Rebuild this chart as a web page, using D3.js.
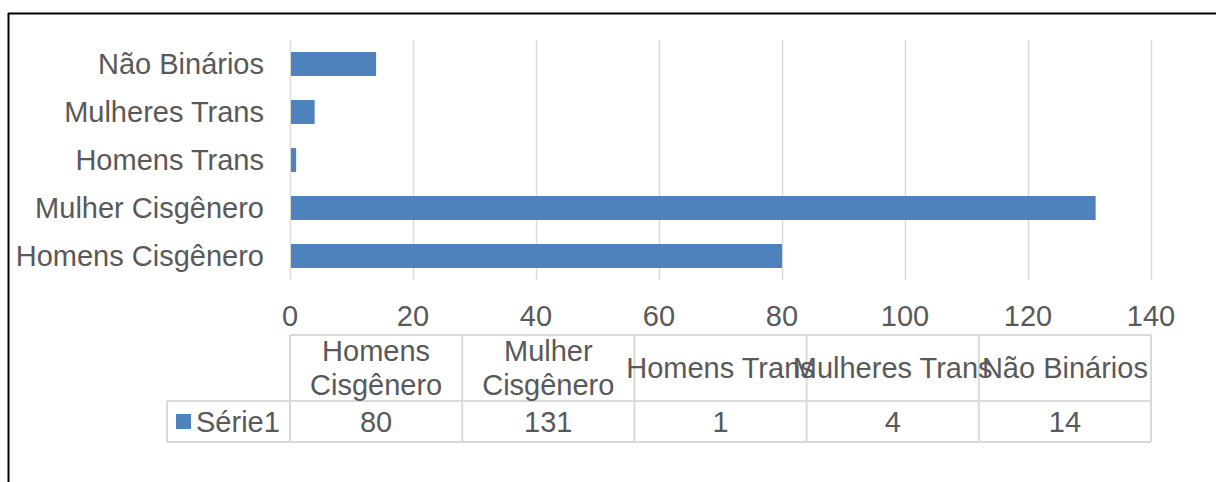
<!DOCTYPE html>
<html>
<head>
<meta charset="utf-8">
<script src="https://cdn.jsdelivr.net/npm/d3@7"></script>
<style>
  body { margin: 0; background: #fff; }
  text { font-family: "Liberation Sans", Arial, sans-serif; fill: #595959; }
</style>
</head>
<body>
<div id="chart"></div>
<script>
// data
let categories = ["Homens Cisgênero", "Mulher Cisgênero", "Homens Trans", "Mulheres Trans", "Não Binários"]
let headerLines = [["Homens", "Cisgênero"], ["Mulher", "Cisgênero"], ["Homens Trans"], ["Mulheres Trans"], ["Não Binários"]]
let values = [80, 131, 1, 4, 14]
let seriesName = "Série1"
let xTicks = [0, 20, 40, 60, 80, 100, 120, 140]

let W = 1216, H = 482
let plot = {left: 290, right: 1151, top: 40, bottom: 280}
let barColor = "#4f81bd"
let gridColor = "#d9d9d9"
let fontSize = 29

let svg = d3.select("#chart").append("svg")
    .attr("width", W).attr("height", H)

// outer frame (cropped: only top and left edges visible)
svg.append("line").attr("x1", 8).attr("x2", W).attr("y1", 13.5).attr("y2", 13.5)
    .attr("stroke", "#000").attr("stroke-width", 2)
svg.append("line").attr("x1", 8.5).attr("x2", 8.5).attr("y1", 13).attr("y2", H)
    .attr("stroke", "#000").attr("stroke-width", 2)

let x = d3.scaleLinear().domain([0, 140]).range([plot.left, plot.right])
// Não Binários at top -> reverse order
let y = d3.scaleBand().domain(categories.slice().reverse())
    .range([plot.top, plot.bottom]).paddingInner(0.5).paddingOuter(0.25)

// gridlines
svg.append("g").selectAll("line").data(xTicks).join("line")
    .attr("x1", d => Math.round(x(d)) + 0.5).attr("x2", d => Math.round(x(d)) + 0.5)
    .attr("y1", plot.top).attr("y2", plot.bottom)
    .attr("stroke", gridColor).attr("stroke-width", 1.5)

// bars
svg.append("g").selectAll("rect").data(categories).join("rect")
    .attr("x", x(0) + 1)
    .attr("y", d => y(d))
    .attr("width", (d, i) => x(values[i]) - x(0) - 1)
    .attr("height", y.bandwidth())
    .attr("fill", barColor)

// category labels
svg.append("g").selectAll("text").data(categories).join("text")
    .attr("x", 264)
    .attr("y", d => y(d) + y.bandwidth() / 2)
    .attr("dy", "0.35em")
    .attr("text-anchor", "end")
    .attr("font-size", fontSize)
    .text(d => d)

// x tick labels
svg.append("g").selectAll("text").data(xTicks).join("text")
    .attr("x", d => x(d))
    .attr("y", 316)
    .attr("dy", "0.35em")
    .attr("text-anchor", "middle")
    .attr("font-size", fontSize)
    .text(d => d)

// data table
let tbl = {top: 335, mid: 401, bottom: 442, legendLeft: 167}
let colW = (plot.right - plot.left) / categories.length
let colX = d3.range(categories.length + 1).map(i => plot.left + i * colW)
let tg = svg.append("g").attr("stroke", gridColor).attr("stroke-width", 2)

// horizontal lines
tg.append("line").attr("x1", plot.left).attr("x2", plot.right).attr("y1", tbl.top).attr("y2", tbl.top)
tg.append("line").attr("x1", tbl.legendLeft).attr("x2", plot.right).attr("y1", tbl.mid).attr("y2", tbl.mid)
tg.append("line").attr("x1", tbl.legendLeft).attr("x2", plot.right).attr("y1", tbl.bottom).attr("y2", tbl.bottom)
// vertical lines
tg.selectAll("line.v").data(colX).join("line").attr("class", "v")
    .attr("x1", d => d).attr("x2", d => d)
    .attr("y1", tbl.top).attr("y2", tbl.bottom)
tg.append("line").attr("x1", tbl.legendLeft).attr("x2", tbl.legendLeft)
    .attr("y1", tbl.mid).attr("y2", tbl.bottom)

// header text
let hdr = svg.append("g").selectAll("text").data(headerLines).join("text")
    .attr("text-anchor", "middle")
    .attr("font-size", fontSize)
hdr.each(function(lines, i) {
    let cx = colX[i] + colW / 2
    let cy = (tbl.top + tbl.mid) / 2
    let lh = 34
    d3.select(this).selectAll("tspan").data(lines).join("tspan")
        .attr("x", cx)
        .attr("y", (d, j) => cy + (j - (lines.length - 1) / 2) * lh)
        .attr("dy", "0.35em")
        .text(d => d)
})

// values row
svg.append("g").selectAll("text").data(values).join("text")
    .attr("x", (d, i) => colX[i] + colW / 2)
    .attr("y", (tbl.mid + tbl.bottom) / 2)
    .attr("dy", "0.35em")
    .attr("text-anchor", "middle")
    .attr("font-size", fontSize)
    .text(d => d)

// legend key
svg.append("rect").attr("x", 176).attr("y", 414).attr("width", 15).attr("height", 15).attr("fill", barColor)
svg.append("text").attr("x", 196).attr("y", (tbl.mid + tbl.bottom) / 2).attr("dy", "0.35em")
    .attr("font-size", fontSize).text(seriesName)
</script>
</body>
</html>
